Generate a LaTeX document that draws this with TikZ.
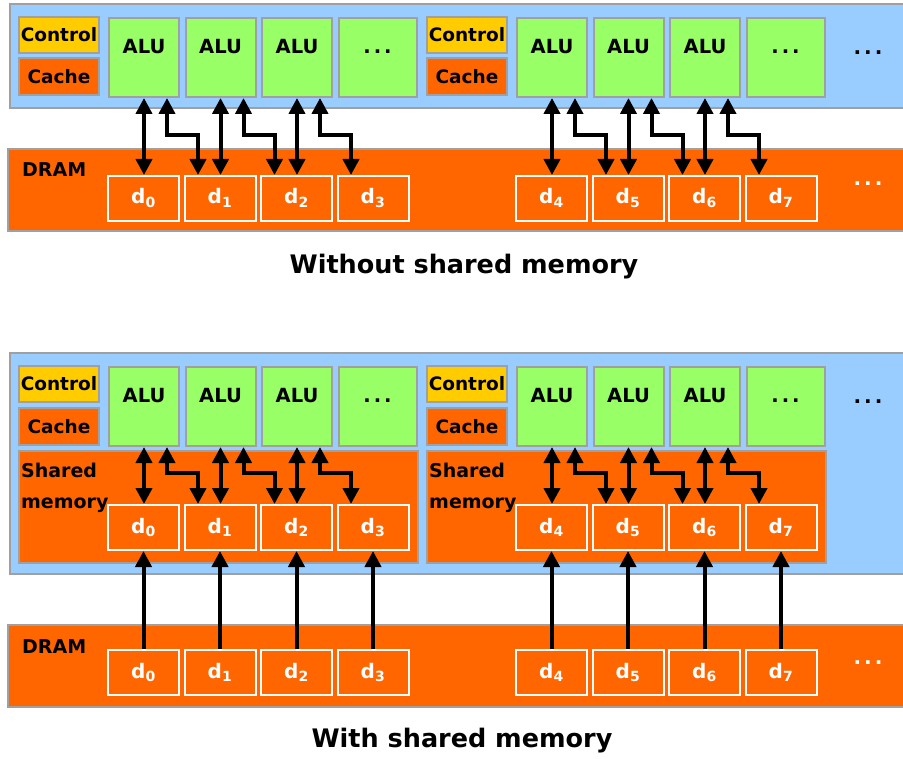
\documentclass[tikz,border=0pt]{standalone}
\usepackage{fontspec}
\setmainfont{DejaVu Sans}
\usetikzlibrary{arrows.meta}
\definecolor{panelblue}{HTML}{99CCFF}
\definecolor{alugreen}{HTML}{99FF66}
\definecolor{memorange}{HTML}{FF6600}
\definecolor{ctrlyellow}{HTML}{FFCC00}
\definecolor{edgegray}{HTML}{A0A0A0}
\newcommand\etcdots{.\kern3pt.\kern3pt.}
\begin{document}
\begin{tikzpicture}[x=1pt, y=-1pt,
  panel/.style = {draw=edgegray, line width=2pt, fill=panelblue},
  band/.style = {draw=edgegray, line width=2pt, fill=memorange},
  ctrl/.style = {draw=edgegray, line width=2pt, fill=ctrlyellow, inner sep=0pt, anchor=north west,
    minimum width=80pt, minimum height=36pt, font=\fontsize{18.5}{18.5}\selectfont\bfseries},
  cache/.style = {ctrl, fill=memorange, minimum height=37pt},
  alu/.style = {draw=edgegray, line width=2pt, fill=alugreen, inner sep=0pt, anchor=north west,
    minimum height=79pt, text height=14pt, text depth=22pt, font=\fontsize{19.5}{19.5}\selectfont\bfseries},
  dbox/.style = {draw=white, line width=2pt, fill=memorange, text=white, inner sep=0pt, anchor=north west,
    minimum width=71pt, minimum height=45pt, text height=14pt, text depth=3pt,
    font=\fontsize{20}{20}\selectfont\bfseries},
  shmem/.style = {draw=edgegray, line width=2pt, fill=memorange, inner sep=0pt, anchor=north west,
    minimum width=399pt, minimum height=112pt},
  lbl/.style = {inner sep=0pt, font=\fontsize{19}{31}\selectfont\bfseries},
  dots/.style = {inner sep=0pt, anchor=base, font=\fontsize{20}{20}\selectfont\bfseries},
  link/.style = {line width=4pt, {Triangle[width=16pt,length=16pt]}-{Triangle[width=16pt,length=16pt]}},
  feed/.style = {line width=4pt, -{Triangle[width=16pt,length=16pt]}},
  title/.style = {inner sep=0pt, font=\fontsize{25.5}{25.5}\selectfont\bfseries}]
\useasboundingbox (0,0) rectangle (903,759);
\clip (0,0) rectangle (903,759);

% without shared memory
\draw[panel] (10,4) rectangle (915,108);
\draw[band] (8,149) rectangle (915,231);
\foreach \g in {0,1} {
  \node[ctrl] (ctrlA\g) at (18+408*\g,16) {Control};
  \node[cache] (cacheA\g) at (18+408*\g,57) {Cache};
  \foreach \i/\t/\w in {0/ALU/70,1/ALU/70,2/ALU/70,3/\etcdots/78} {
    \pgfmathtruncatemacro\k{4*\g+\i}
    \node[alu, minimum width=\w pt] (aluA\k) at (108+408*\g+76.5*\i,17) {\t};
    \node[dbox] (dA\k) at (107+408*\g+76.5*\i,175) {d\textsubscript{\k}};
  }
}
\node[dots] (moreA) at (868,55) {\etcdots};
\node[dots, text=white] (moreDA) at (868,186) {\etcdots};
\node[lbl, anchor=base west] (dramA) at (22,177) {DRAM};
\foreach \k in {0,1,2,4,5,6}
  \draw[link] (aluA\k.south) -- (aluA\k.south |- dA\k.north);
\foreach \k/\j in {0/1,1/2,2/3,4/5,5/6,6/7}
  \draw[link] ([xshift=23pt]aluA\k.south) -- ++(0,37) -| ([xshift=-22pt]dA\j.north);
\node[title] (titleA) at (464,267) {Without shared memory};

% with shared memory
\draw[panel] (10,353) rectangle (915,574);
\draw[band] (8,625) rectangle (915,707);
\foreach \g in {0,1} {
  \node[ctrl] (ctrlB\g) at (18+408*\g,365) {Control};
  \node[cache] (cacheB\g) at (18+408*\g,407) {Cache};
  \node[shmem] (shmB\g) at (18+408*\g,450) {};
  \foreach \i/\t/\w in {0/ALU/70,1/ALU/70,2/ALU/70,3/\etcdots/78} {
    \pgfmathtruncatemacro\k{4*\g+\i}
    \node[alu, minimum width=\w pt] (aluB\k) at (108+408*\g+76.5*\i,366) {\t};
    \node[dbox] (dB\k) at (107+408*\g+76.5*\i,504) {d\textsubscript{\k}};
    \node[dbox] (dC\k) at (107+408*\g+76.5*\i,649) {d\textsubscript{\k}};
  }
  \node[lbl, anchor=north west, align=left] (shlbl\g) at (21+408*\g,463) {Shared\\memory};
}
\node[dots] (moreB) at (868,404) {\etcdots};
\node[dots, text=white] (moreDB) at (868,664) {\etcdots};
\node[lbl, anchor=base west] (dramB) at (22,653) {DRAM};
\foreach \k in {0,1,2,4,5,6}
  \draw[link] (aluB\k.south) -- (aluB\k.south |- dB\k.north);
\foreach \k/\j in {0/1,1/2,2/3,4/5,5/6,6/7}
  \draw[link] ([xshift=23pt]aluB\k.south) -- ++(0,26) -| ([xshift=-22pt]dB\j.north);
\foreach \k in {0,...,7}
  \draw[feed] (dC\k.north) -- (dC\k.north |- dB\k.south);
\node[title] (titleB) at (462,741) {With shared memory};
\end{tikzpicture}
\end{document}
